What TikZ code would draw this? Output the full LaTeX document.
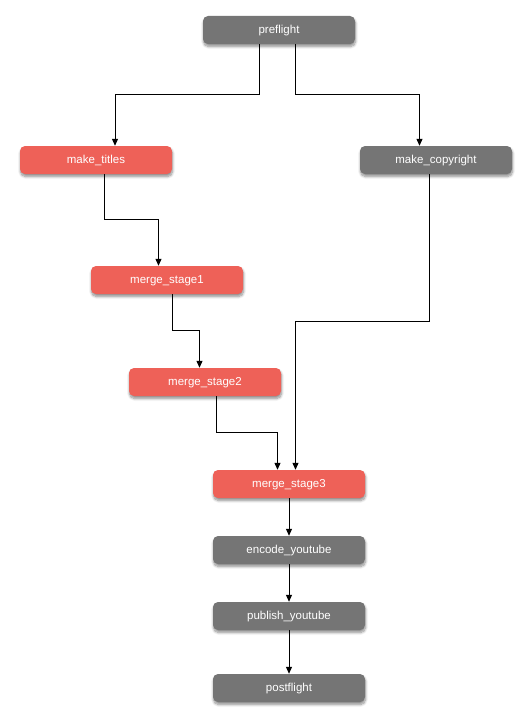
\documentclass[tikz,border=0pt]{standalone}
\usepackage{fontspec}
\setmainfont{Liberation Sans}
\usetikzlibrary{arrows.meta,shadows.blur}
\definecolor{taskgray}{HTML}{757575}
\definecolor{taskred}{HTML}{EE6158}
\tikzset{
  task/.style={rectangle, rounded corners=5pt, draw=none, text=white,
    minimum width=152pt, minimum height=28pt, inner sep=0pt,
    text height=9pt, text depth=2pt,
    font=\fontsize{11.5}{13}\selectfont,
    blur shadow={shadow xshift=0.5pt, shadow yshift=-2.5pt, shadow blur radius=2.5pt, shadow blur steps=8, shadow opacity=45}},
  graytask/.style={task, fill=taskgray},
  redtask/.style={task, fill=taskred},
  flow/.style={draw=black, line width=1pt, -{Triangle[length=7pt,width=6pt]}}
}
\begin{document}
\begin{tikzpicture}[x=1pt,y=-1pt]
\useasboundingbox (0,0) rectangle (531,725);
\node[graytask] (pre) at (279,30) {preflight};
\node[redtask] (titles) at (96,160) {make\_titles};
\node[graytask] (copy) at (436,160) {make\_copyright};
\node[redtask] (m1) at (167,280) {merge\_stage1};
\node[redtask] (m2) at (205,382) {merge\_stage2};
\node[redtask] (m3) at (289,484) {merge\_stage3};
\node[graytask] (enc) at (289,550) {encode\_youtube};
\node[graytask] (pub) at (289,616) {publish\_youtube};
\node[graytask] (post) at (289,688) {postflight};
\draw[flow] (pre.south -| 259.5,0) |- (115,94.5) -- (titles.north -| 115,0);
\draw[flow] (pre.south -| 295.5,0) |- (419.5,94.5) -- (copy.north -| 419.5,0);
\draw[flow] (titles.south -| 104.5,0) |- (158.5,219.5) -- (m1.north -| 158.5,0);
\draw[flow] (m1.south -| 172.5,0) |- (199.5,330.5) -- (m2.north -| 199.5,0);
\draw[flow] (m2.south -| 216.5,0) |- (277.5,432.5) -- (m3.north -| 277.5,0);
\draw[flow] (copy.south -| 429.5,0) |- (295.5,321.5) -- (m3.north -| 295.5,0);
\draw[flow] (m3) -- (enc);
\draw[flow] (enc) -- (pub);
\draw[flow] (pub) -- (post);
\end{tikzpicture}
\end{document}
